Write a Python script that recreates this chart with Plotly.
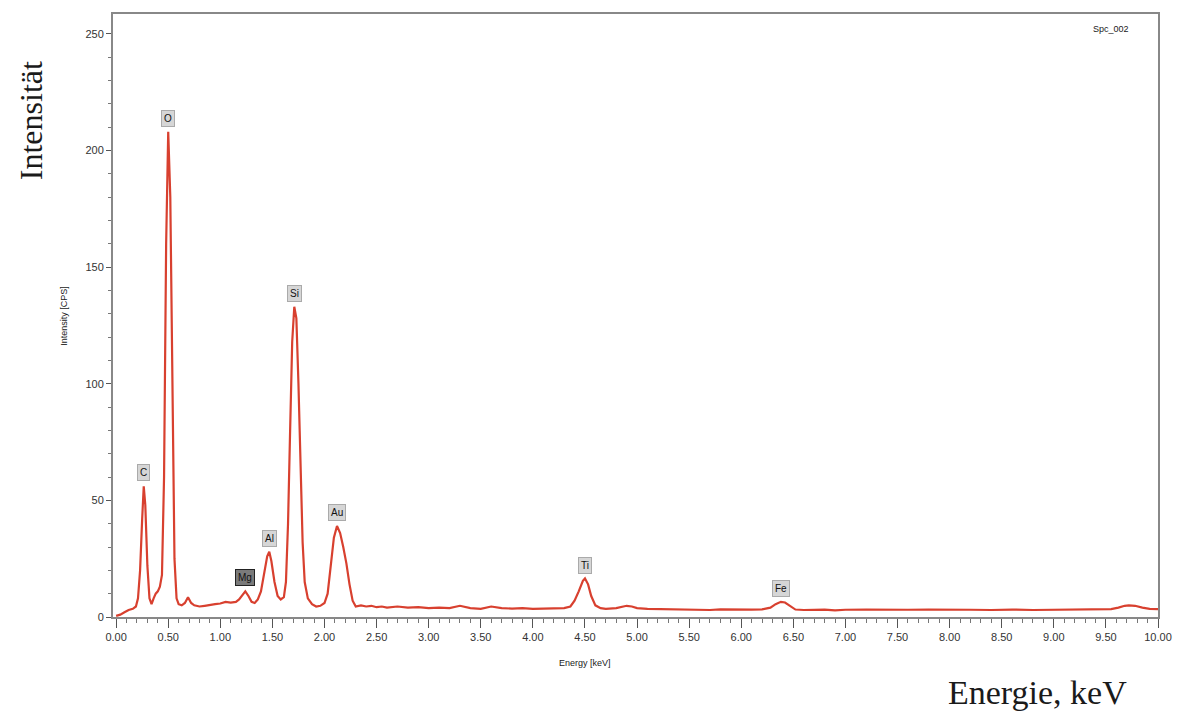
import plotly.graph_objects as go

# Spectrum values (energy in keV, intensity in CPS)
energy = [0.00, 0.04, 0.08, 0.12, 0.16, 0.19, 0.21, 0.23, 0.25, 0.265, 0.28, 0.30, 0.32, 0.34, 0.36,
          0.38, 0.40, 0.42, 0.44, 0.46, 0.48, 0.50, 0.52, 0.54, 0.56, 0.58, 0.60, 0.63, 0.66, 0.69,
          0.72, 0.75, 0.80, 0.85, 0.90, 0.95, 1.00, 1.05, 1.10, 1.15, 1.18, 1.21, 1.24, 1.27, 1.30,
          1.33, 1.36, 1.39, 1.42, 1.45, 1.47, 1.49, 1.52, 1.55, 1.58, 1.61, 1.63, 1.65, 1.67, 1.69,
          1.71, 1.73, 1.75, 1.77, 1.79, 1.81, 1.84, 1.88, 1.92, 1.96, 2.00, 2.03, 2.06, 2.09, 2.12,
          2.15, 2.18, 2.21, 2.24, 2.27, 2.30, 2.35, 2.40, 2.45, 2.50, 2.55, 2.60, 2.70, 2.80, 2.90,
          3.00, 3.10, 3.20, 3.30, 3.40, 3.50, 3.60, 3.70, 3.80, 3.90, 4.00, 4.10, 4.20, 4.30, 4.36,
          4.40, 4.44, 4.48, 4.50, 4.53, 4.56, 4.60, 4.65, 4.70, 4.80, 4.90, 4.95, 5.00, 5.10, 5.20,
          5.30, 5.40, 5.50, 5.60, 5.70, 5.80, 5.90, 6.00, 6.10, 6.20, 6.28, 6.33, 6.38, 6.42, 6.47,
          6.52, 6.60, 6.70, 6.80, 6.90, 7.00, 7.20, 7.40, 7.60, 7.80, 8.00, 8.20, 8.40, 8.60, 8.80,
          9.00, 9.20, 9.40, 9.55, 9.62, 9.68, 9.72, 9.78, 9.85, 9.92, 10.00]
counts = [0.5, 1.0, 2.0, 3.0, 3.5, 4.5, 8, 20, 42, 56, 48, 22, 8, 5.5, 8,
          10, 11, 13, 18, 60, 160, 208, 180, 90, 25, 8, 5.5, 5, 6, 8.5,
          6, 5, 4.5, 4.8, 5.0, 5.5, 5.8, 6.5, 6.2, 6.5, 7.5, 9.5, 11, 9, 6.5,
          6, 7.5, 11, 18, 26, 28, 24, 15, 9, 7.5, 8.5, 15, 40, 80, 118,
          133, 128, 100, 62, 32, 15, 8, 5.5, 4.5, 4.8, 6, 10, 22, 34, 39,
          36, 30, 23, 14, 7, 4.5, 5, 4.5, 4.8, 4.2, 4.5, 4.0, 4.5, 4.0, 4.2,
          3.8, 4.0, 3.8, 4.8, 3.8, 3.5, 4.5, 3.8, 3.6, 3.8, 3.5, 3.6, 3.5, 3.8, 4.5,
          7, 11, 15.5, 16.5, 14, 9, 5, 3.8, 3.5, 3.8, 4.8, 4.5, 3.8, 3.5, 3.4,
          3.3, 3.2, 3.4, 3.2, 3.0, 3.3, 3.2, 3.0, 3.2, 3.3, 4, 5.5, 6.5, 6.2, 4.5,
          3.2, 3.0, 3.1, 3.2, 2.8, 3.1, 3.2, 3.0, 3.1, 3.2, 3.0, 3.1, 3.0, 3.2, 3.0,
          3.1, 3.0, 3.2, 3.4, 4.0, 4.8, 5.0, 4.8, 4.0, 3.5, 3.4]

# Peak labels
peak_names = ["C", "O", "Mg", "Al", "Si", "Au", "Ti", "Fe"]
peak_energy = [0.265, 0.50, 1.24, 1.47, 1.71, 2.12, 4.50, 6.38]
peak_height = [56, 208, 11, 28, 133, 39, 16.5, 6.5]

x_ticks = [i * 0.5 for i in range(21)]
x_tick_text = ["%.2f" % v for v in x_ticks]
y_ticks = [0, 50, 100, 150, 200, 250]

fig = go.Figure()
fig.add_trace(go.Scatter(x=energy, y=counts, mode="lines",
                         line=dict(color="#d8402f", width=2.2), hoverinfo="skip"))

narrow = "Liberation Sans Narrow, Arial Narrow, Liberation Sans, sans-serif"
tick_font = dict(family=narrow, size=11, color="#333")

for name, ex, ey in zip(peak_names, peak_energy, peak_height):
    sel = name == "Mg"
    fig.add_annotation(x=ex, y=ey, xref="x", yref="y", text=name, showarrow=False,
                       xanchor="center", yanchor="bottom", yshift=5,
                       font=dict(family="Liberation Sans, Arial, sans-serif", size=10, color="#111"),
                       bgcolor="#d6d6d6" if not sel else "#7a7a7a",
                       bordercolor="#aaaaaa" if not sel else "#222",
                       borderwidth=1, borderpad=2)

fig.update_layout(
    width=1184, height=720,
    margin=dict(l=113, r=21, t=13, b=103),
    paper_bgcolor="white", plot_bgcolor="white",
    showlegend=False,
    xaxis=dict(range=[-0.03, 10.0], tickvals=x_ticks, ticktext=x_tick_text,
               ticks="outside", ticklen=9, tickwidth=1, tickcolor="#555",
               minor=dict(dtick=0.1, tick0=0, ticks="outside", ticklen=4, tickcolor="#777"),
               showgrid=False, zeroline=False,
               showline=True, linecolor="#888", linewidth=2, mirror=True,
               tickfont=tick_font),
    yaxis=dict(range=[0, 258.5], tickvals=y_ticks,
               ticks="outside", ticklen=5, tickwidth=1, tickcolor="#555",
               minor=dict(dtick=10, tick0=0, ticks="outside", ticklen=3, tickcolor="#777"),
               showgrid=False, zeroline=False,
               showline=True, linecolor="#888", linewidth=2, mirror=True,
               tickfont=tick_font),
)

def label(text, x, y, size, family, angle=0):
    fig.add_annotation(xref="paper", yref="paper", x=x, y=y, text=text, textangle=angle,
                       xanchor="center", yanchor="middle", showarrow=False,
                       font=dict(family=family, size=size, color="#1a1a1a"))

# axis titles of the instrument plot
label("Energy [keV]", 0.452, -0.076, 9, narrow)
label("Intensity [CPS]", -0.0476, 0.5, 9, narrow, -90)
label("Spc_002", 0.955, 0.975, 9, narrow)

# big serif labels
serif = "Liberation Serif, Times New Roman, serif"
label("Intensität", -0.079, 0.823, 32, serif, -90)
label("Energie, keV", 0.885, -0.126, 34, serif)

fig.write_html("out.html")
